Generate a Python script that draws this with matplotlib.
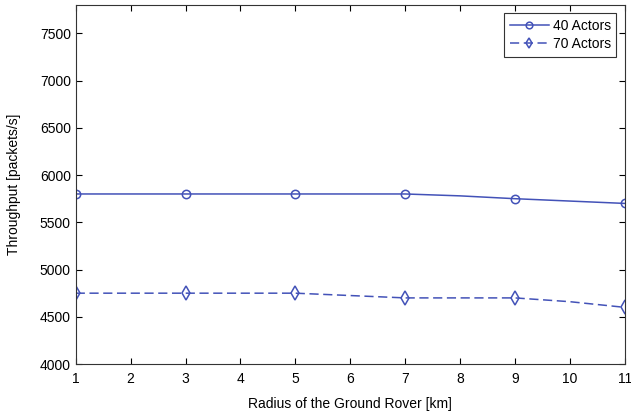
import matplotlib
matplotlib.use('Agg')
import matplotlib.pyplot as plt

# Datos
radio = [1, 2, 3, 4, 5, 6, 7, 8, 9, 10, 11]
actores_40 = [5800, 5800, 5800, 5800, 5800, 5800, 5800, 5780, 5750, 5725, 5700]
actores_70 = [4750, 4750, 4750, 4750, 4750, 4725, 4700, 4700, 4700, 4660, 4600]

plt.rcParams['font.family'] = ['Liberation Sans', 'DejaVu Sans']
plt.rcParams['font.size'] = 10

azul = '#4352b8'

fig = plt.figure(figsize=(6.31, 4.17), dpi=100)
ax = fig.add_axes([0.12, 0.127, 0.87, 0.861])

ax.plot(radio, actores_40, '-', color=azul, lw=1.1, marker='o', markevery=2,
        ms=6, mfc='none', mec=azul, mew=1.1, label='40 Actors')
ax.plot(radio, actores_70, '--', color=azul, lw=1.1, marker='d', markevery=2,
        ms=7, mfc='none', mec=azul, mew=1.1, dashes=(6, 3), label='70 Actors')

ax.set_xlim(1, 11)
ax.set_ylim(4000, 7800)
ax.set_xticks(range(1, 12))
ax.set_yticks(range(4000, 7501, 500))
ax.tick_params(direction='in', top=True, right=True, length=4, width=0.8)
ax.tick_params(axis='x', pad=6)
for s in ax.spines.values():
    s.set_color('#333333')
ax.set_xlabel('Radius of the Ground Rover [km]', labelpad=8)
ax.set_ylabel('Throughput [packets/s]')
ax.yaxis.set_label_coords(-0.1, 0.5)

leg = ax.legend(loc='upper right', fancybox=False, edgecolor='#333333',
                framealpha=1, borderaxespad=0.6, handlelength=2.8,
                markerscale=0.8, borderpad=0.4, labelspacing=0.3,
                handletextpad=0.3, fontsize=10)
leg.get_frame().set_linewidth(0.8)

fig.savefig('out.png', dpi=100)
